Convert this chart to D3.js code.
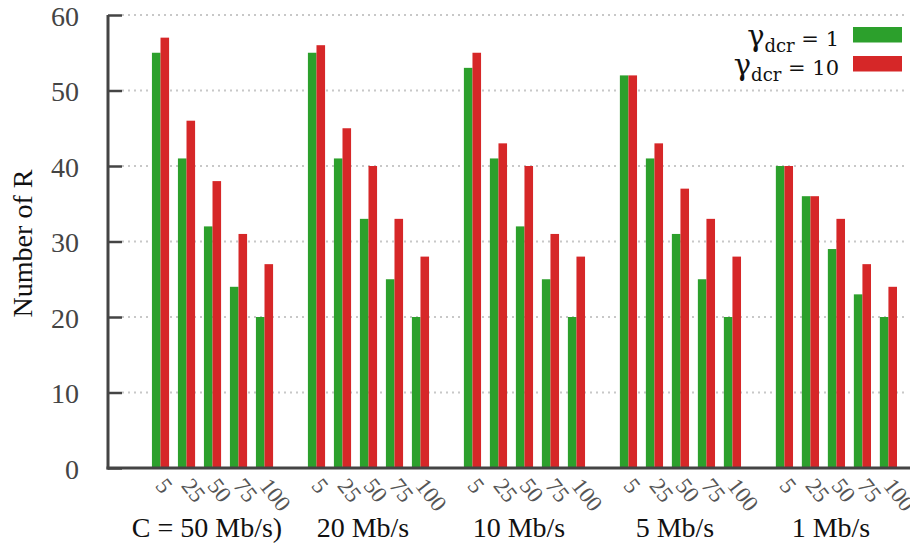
<!DOCTYPE html>
<html>
<head>
<meta charset="utf-8">
<script src="https://cdn.jsdelivr.net/npm/d3@7"></script>
<style>
  html, body { margin: 0; padding: 0; background: #fff; }
  svg { display: block; }
</style>
</head>
<body>
<script>
// ---- data ----
const groups = ["C = 50 Mb/s)", "20 Mb/s", "10 Mb/s", "5 Mb/s", "1 Mb/s"];
const subLabels = ["5", "25", "50", "75", "100"];
const gamma1 = [
  [55, 41, 32, 24, 20],
  [55, 41, 33, 25, 20],
  [53, 41, 32, 25, 20],
  [52, 41, 31, 25, 20],
  [40, 36, 29, 23, 20]
];
const gamma10 = [
  [57, 46, 38, 31, 27],
  [56, 45, 40, 33, 28],
  [55, 43, 40, 31, 28],
  [52, 43, 37, 33, 28],
  [40, 36, 33, 27, 24]
];
const yTicks = [0, 10, 20, 30, 40, 50, 60];
const seriesNames = ["1", "10"];
const colors = ["#2ca02c", "#d62728"];

// ---- layout ----
const W = 910, H = 547;
const pL = 108, pR = 910, pT = 15, pB = 468;
const slotsPerGroup = subLabels.length + 1;
const serif = "'Liberation Serif', 'Times New Roman', serif";
const djSerif = "'DejaVu Serif', serif";

const svg = d3.select("body").append("svg").attr("width", W).attr("height", H);

const x = d3.scaleLinear().domain([-2.02, 28.83]).range([pL, pR]);
const y = d3.scaleLinear().domain([0, 60]).range([pB, pT]);
const barW = x(0.33) - x(0);

// flatten
const rows = [];
groups.forEach((g, gi) => {
  subLabels.forEach((s, si) => {
    rows.push({ g: gi, s: si, label: s, slot: gi * slotsPerGroup + si, v: [gamma1[gi][si], gamma10[gi][si]] });
  });
});

// grid
svg.append("g").selectAll("line").data(yTicks.filter(d => d > 0)).join("line")
  .attr("x1", pL + 14).attr("x2", pR - 2)
  .attr("y1", d => y(d)).attr("y2", d => y(d))
  .attr("stroke", "#c8c8c8").attr("stroke-width", 2).attr("stroke-dasharray", "2,4");

// bars
const bars = svg.append("g");
rows.forEach(r => {
  r.v.forEach((v, k) => {
    bars.append("rect")
      .attr("x", x(r.slot) - barW + k * barW)
      .attr("y", y(v))
      .attr("width", barW)
      .attr("height", y(0) - y(v))
      .attr("fill", colors[k]);
  });
});

// y axis
const yAxis = d3.axisLeft(y).tickValues(yTicks).tickSize(-14).tickPadding(29).tickFormat(d3.format("d"));
const yg = svg.append("g").attr("transform", `translate(${pL},0)`).call(yAxis);
yg.attr("font-family", serif);
yg.select(".domain").remove();
yg.selectAll(".tick line").attr("stroke", "#444").attr("stroke-width", 2.5);
yg.selectAll(".tick text")
  .style("font-family", serif)
  .attr("font-size", 28).attr("fill", "#444").attr("dy", "0.36em");

// axis lines
svg.append("line").attr("x1", pL).attr("x2", pL).attr("y1", pT).attr("y2", pB + 1.5)
  .attr("stroke", "#444").attr("stroke-width", 3);
svg.append("line").attr("x1", pL - 1.5).attr("x2", pR).attr("y1", pB).attr("y2", pB)
  .attr("stroke", "#444").attr("stroke-width", 3);

// x tick labels (rotated)
svg.append("g").selectAll("text").data(rows).join("text")
  .attr("transform", d => `translate(${x(d.slot) - 6},486) rotate(52)`)
  .style("font-family", serif)
  .attr("font-size", 23).attr("fill", "#555")
  .text(d => d.label);

// group labels
svg.append("g").selectAll("text").data(groups).join("text")
  .attr("x", (d, i) => x(i * slotsPerGroup + 2) - 5.5)
  .attr("y", 537)
  .attr("text-anchor", "middle")
  .style("font-family", serif)
  .attr("font-size", 28).attr("fill", "#111")
  .text(d => d);

// y label
svg.append("text")
  .attr("transform", "translate(32,243.5) rotate(-90)")
  .attr("text-anchor", "middle")
  .style("font-family", serif)
  .attr("font-size", 28).attr("fill", "#111")
  .text("Number of R");

// legend
const leg = svg.append("g");
seriesNames.forEach((n, i) => {
  const by = 46 + i * 29;
  leg.append("rect").attr("x", 853).attr("y", by - 19).attr("width", 49).attr("height", 15.5).attr("fill", colors[i]);
  const t = leg.append("text")
    .attr("x", 839).attr("y", by)
    .attr("text-anchor", "end")
    .style("font-family", djSerif)
    .attr("font-size", 21).attr("fill", "#111");
  t.append("tspan").attr("font-size", 29).text("γ");
  t.append("tspan").attr("dy", 6).attr("font-size", 18).text("dcr");
  t.append("tspan").attr("dy", -6).text(" = " + n);
});
</script>
</body>
</html>
